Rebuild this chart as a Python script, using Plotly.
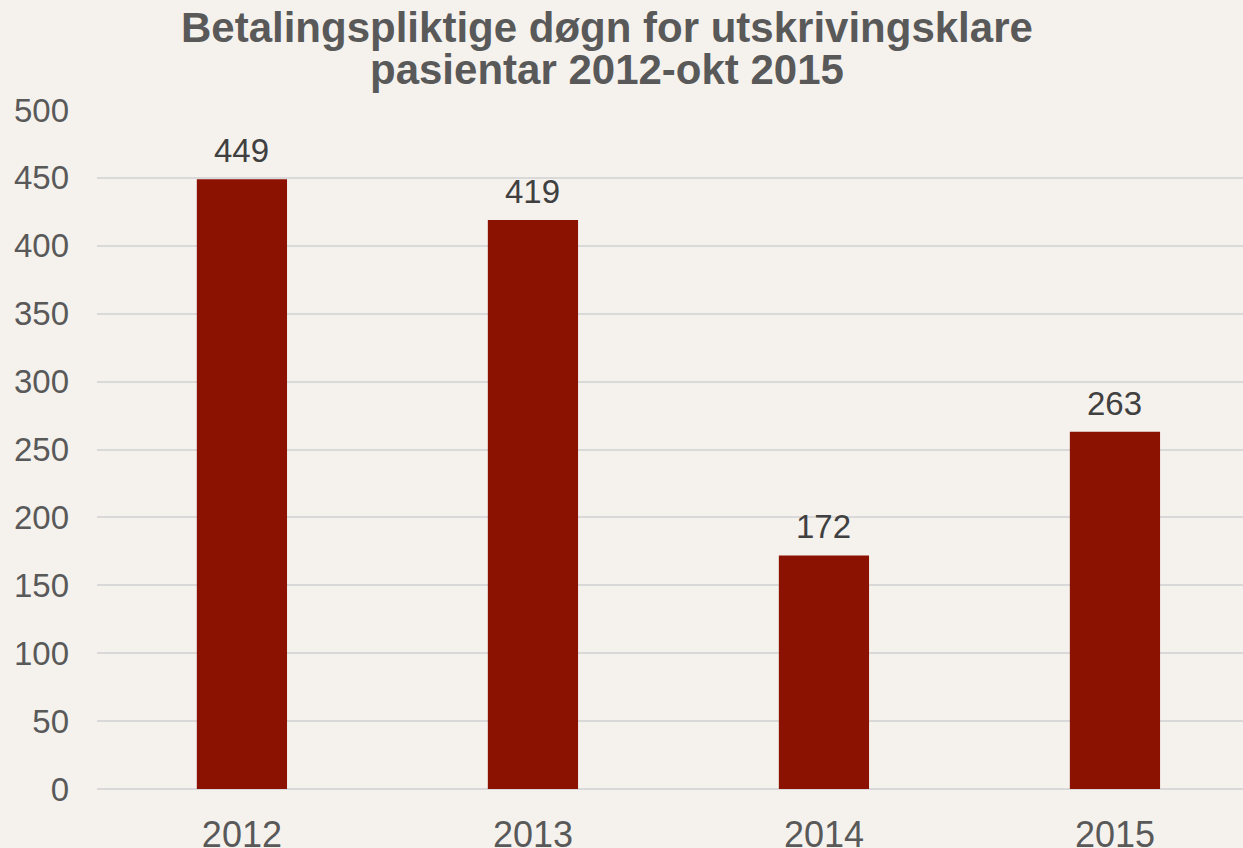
import plotly.graph_objects as go

years = ["2012", "2013", "2014", "2015"]
values = [449, 419, 172, 263]
y_ticks = [0, 50, 100, 150, 200, 250, 300, 350, 400, 450, 500]
title_lines = ["Betalingspliktige døgn for utskrivingsklare", "pasientar 2012-okt 2015"]

FONT = "Liberation Sans, Arial, sans-serif"

fig = go.Figure()
fig.add_trace(go.Bar(
    x=years, y=values,
    marker=dict(color="#8B1100", line=dict(width=0)),
    width=0.31,
    hoverinfo="x+y",
))

for i, v in enumerate(values):
    fig.add_annotation(
        x=i, y=v, xref="x", yref="y", text=str(v), showarrow=False,
        yanchor="bottom", yshift=8,
        font=dict(family=FONT, size=33, color="#404040"),
    )

for i, line in enumerate(title_lines):
    fig.add_annotation(
        x=0.4446, xref="paper", y=[1.121, 1.059][i], yref="paper",
        text="<b>" + line + "</b>", showarrow=False,
        xanchor="center", yanchor="middle",
        font=dict(family=FONT, size=42, color="#595959"),
    )

fig.update_layout(
    width=1243, height=848,
    paper_bgcolor="#F5F2EE", plot_bgcolor="#F5F2EE",
    margin=dict(l=97, r=0, t=110, b=59, autoexpand=False),
    showlegend=False,
)
fig.update_xaxes(
    type="category", range=[-0.498, 3.44], automargin=False,
    tickfont=dict(family=FONT, size=36, color="#595959"),
    showline=False, showgrid=False, ticks="", ticklabelstandoff=21,
)
fig.update_yaxes(
    range=[0, 500], tickvals=y_ticks, automargin=False,
    tickfont=dict(family=FONT, size=33, color="#595959"),
    gridcolor="#D9D9D9", gridwidth=2, zeroline=True, zerolinecolor="#D9D9D9", zerolinewidth=2,
    ticks="", ticklabelstandoff=27,
)

fig.write_html(
    "out.html",
    config={"displayModeBar": False},
    post_script="document.body.style.margin='0';document.body.style.padding='0';",
)
